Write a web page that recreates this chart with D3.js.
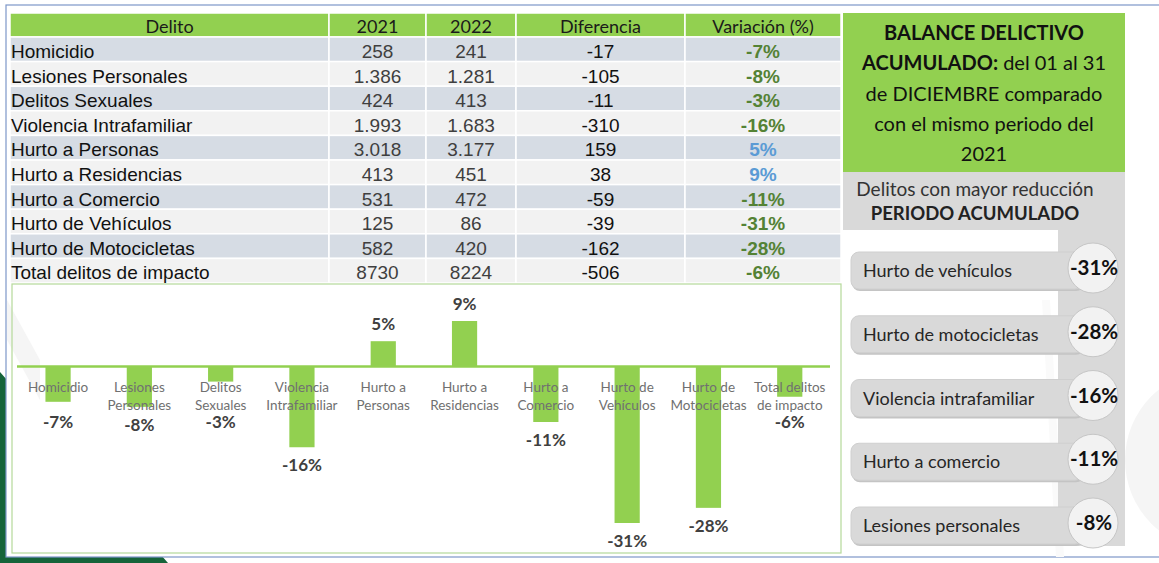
<!DOCTYPE html>
<html>
<head>
<meta charset="utf-8">
<script src="https://cdn.jsdelivr.net/npm/d3@7"></script>
<style>
  body { margin: 0; background: #fff; }
  svg { display: block; }
</style>
</head>
<body>
<script>
const W = 1159, H = 563;

// table data
const headers = ["Delito", "2021", "2022", "Diferencia", "Variación (%)"];
const delitos = ["Homicidio", "Lesiones Personales", "Delitos Sexuales", "Violencia Intrafamiliar",
    "Hurto a Personas", "Hurto a Residencias", "Hurto a Comercio", "Hurto de Vehículos",
    "Hurto de Motocicletas", "Total delitos de impacto"];
const v2021 = [258, 1386, 424, 1993, 3018, 413, 531, 125, 582, 8730];
const v2022 = [241, 1281, 413, 1683, 3177, 451, 472, 86, 420, 8224];
const diferencia = [-17, -105, -11, -310, 159, 38, -59, -39, -162, -506];
const variacion = [-7, -8, -3, -16, 5, 9, -11, -31, -28, -6];

// chart axis labels (two lines)
const chartLabels = [["Homicidio"], ["Lesiones", "Personales"], ["Delitos", "Sexuales"],
    ["Violencia", "Intrafamiliar"], ["Hurto a", "Personas"], ["Hurto a", "Residencias"],
    ["Hurto a", "Comercio"], ["Hurto de", "Vehículos"], ["Hurto de", "Motocicletas"],
    ["Total delitos", "de impacto"]];

// side panel
const titleLines = [["BALANCE DELICTIVO", ""], ["ACUMULADO:", " del 01 al 31"],
    ["", "de DICIEMBRE comparado"], ["", "con el mismo periodo del"], ["", "2021"]];
const topNames = ["Hurto de vehículos", "Hurto de motocicletas", "Violencia intrafamiliar",
    "Hurto a comercio", "Lesiones personales"];
const topValues = [-31, -28, -16, -11, -8];

const green = "#92D050";
const calibri = "Lato, 'Open Sans', sans-serif";
const arial = "'Liberation Sans', Arial, sans-serif";

const loc = d3.formatLocale({ decimal: ",", thousands: ".", grouping: [3], currency: ["$", ""] });
const fmt = loc.format(",d");
const fmtCell = (v, i) => i === delitos.length - 1 ? String(v) : fmt(v);
const pct = v => `${v}%`;

const svg = d3.select("body").append("svg")
    .attr("width", W)
    .attr("height", H);

// background decoration
svg.append("path")
    .attr("d", "M0,372 L168,563 L0,563 Z")
    .attr("fill", "#16643a");
svg.append("rect")
    .attr("x", 6).attr("y", 5)
    .attr("width", 1170).attr("height", 552)
    .attr("fill", "#fff")
    .attr("stroke", "#7d97c9")
    .attr("stroke-width", 1.2);
const wm = svg.append("g").attr("fill", "#f5f5f5");
wm.append("path").attr("d", "M7,300 L7,340 L40,400 L40,360 Z");
wm.append("circle").attr("cx", 1215).attr("cy", 460).attr("r", 90);
wm.append("path").attr("d", "M1042,300 L1050,300 L1064,557 L1056,557 Z").attr("fill", "#fafafa");

// ---------- table ----------
const colEdges = [10, 329, 426, 516, 685, 841];
const row = d3.scaleBand()
    .domain(d3.range(delitos.length))
    .range([37, 283]);

const table = svg.append("g");

table.selectAll("rect.hdr")
    .data(headers)
    .join("rect")
    .attr("class", "hdr")
    .attr("x", (d, i) => colEdges[i])
    .attr("y", 13)
    .attr("width", (d, i) => colEdges[i + 1] - colEdges[i])
    .attr("height", 24)
    .attr("fill", green)
    .attr("stroke", "#fff")
    .attr("stroke-width", 1.5);

table.selectAll("text.hdr")
    .data(headers)
    .join("text")
    .attr("class", "hdr")
    .attr("x", (d, i) => (colEdges[i] + colEdges[i + 1]) / 2)
    .attr("y", 33)
    .attr("text-anchor", "middle")
    .attr("font-family", calibri)
    .attr("font-size", 18)
    .attr("fill", "#1a1a1a")
    .text(d => d);

const rows = table.selectAll("g.row")
    .data(delitos)
    .join("g")
    .attr("class", "row")
    .attr("transform", (d, i) => `translate(0, ${row(i)})`);

rows.each(function (d, i) {
    const g = d3.select(this);
    const fill = i % 2 === 0 ? "#D6DCE4" : "#F2F2F2";
    for (let c = 0; c < 5; c++) {
        g.append("rect")
            .attr("x", colEdges[c])
            .attr("width", colEdges[c + 1] - colEdges[c])
            .attr("height", row.bandwidth())
            .attr("fill", fill)
            .attr("stroke", "#fff")
            .attr("stroke-width", 1.5);
    }
    const yb = 21;
    g.append("text")
        .attr("x", colEdges[0] + 1).attr("y", yb)
        .attr("font-family", arial).attr("font-size", 19).attr("fill", "#111")
        .text(d);
    const cells = [
        [fmtCell(v2021[i], i), "#3f3f3f", "normal"],
        [fmtCell(v2022[i], i), "#3f3f3f", "normal"],
        [String(diferencia[i]), "#111", "normal"],
        [pct(variacion[i]), variacion[i] > 0 ? "#5B9BD5" : "#548235", "bold"]
    ];
    cells.forEach((cl, k) => {
        g.append("text")
            .attr("x", (colEdges[k + 1] + colEdges[k + 2]) / 2)
            .attr("y", yb)
            .attr("text-anchor", "middle")
            .attr("font-family", arial)
            .attr("font-size", 19)
            .attr("font-weight", cl[2])
            .attr("fill", cl[1])
            .text(cl[0]);
    });
});

// ---------- bar chart ----------
svg.append("rect")
    .attr("x", 12).attr("y", 284)
    .attr("width", 829).attr("height", 269)
    .attr("fill", "none")
    .attr("stroke", "#b5d99a")
    .attr("stroke-width", 1.2);

const x = d3.scaleBand()
    .domain(d3.range(variacion.length))
    .range([17.4, 830.4])
    .paddingInner(0.69)
    .paddingOuter(0.345);

const y = d3.scaleLinear()
    .domain([-31, 9])
    .range([523, 321]);

const chart = svg.append("g");

chart.selectAll("rect.bar")
    .data(variacion)
    .join("rect")
    .attr("class", "bar")
    .attr("x", (d, i) => x(i))
    .attr("y", d => y(Math.max(0, d)))
    .attr("width", x.bandwidth())
    .attr("height", d => Math.abs(y(d) - y(0)))
    .attr("fill", green);

chart.append("line")
    .attr("x1", 17).attr("x2", 830)
    .attr("y1", y(0)).attr("y2", y(0))
    .attr("stroke", green)
    .attr("stroke-width", 2.5);

const cx = i => x(i) + x.bandwidth() / 2;

chart.selectAll("text.cat")
    .data(chartLabels)
    .join("text")
    .attr("class", "cat")
    .attr("x", (d, i) => cx(i))
    .attr("y", 392)
    .attr("text-anchor", "middle")
    .attr("font-family", calibri)
    .attr("font-size", 13.5)
    .attr("fill", "#707070")
    .each(function (d) {
        d3.select(this).selectAll("tspan")
            .data(d)
            .join("tspan")
            .attr("x", d3.select(this).attr("x"))
            .attr("dy", (t, k) => k === 0 ? 0 : 17.5)
            .text(t => t);
    });

chart.selectAll("text.val")
    .data(variacion)
    .join("text")
    .attr("class", "val")
    .attr("x", (d, i) => cx(i))
    .attr("y", d => d > 0 ? y(d) - 11 : Math.max(y(d) + 24, 428))
    .attr("text-anchor", "middle")
    .attr("font-family", calibri)
    .attr("font-size", 17)
    .attr("font-weight", "bold")
    .attr("fill", "#404040")
    .text(pct);

// ---------- side panel ----------
const side = svg.append("g");

side.append("rect")
    .attr("x", 843).attr("y", 13)
    .attr("width", 282).attr("height", 159)
    .attr("fill", green);

side.append("path")
    .attr("d", "M843,172 H1125 V546 H1058 V230 H843 Z")
    .attr("fill", "#D9D9D9");

const titleY = d3.scalePoint()
    .domain(d3.range(titleLines.length))
    .range([40, 161]);

side.selectAll("text.title")
    .data(titleLines)
    .join("text")
    .attr("class", "title")
    .attr("x", 984)
    .attr("y", (d, i) => titleY(i))
    .attr("text-anchor", "middle")
    .attr("font-family", calibri)
    .attr("font-size", 20)
    .attr("fill", "#111")
    .each(function (d) {
        const t = d3.select(this);
        if (d[0]) t.append("tspan").attr("font-weight", "bold").text(d[0]);
        if (d[1]) t.append("tspan").text(d[1]);
    });

side.append("text")
    .attr("x", 975).attr("y", 196)
    .attr("text-anchor", "middle")
    .attr("font-family", calibri).attr("font-size", 19).attr("fill", "#333")
    .text("Delitos con mayor reducción");
side.append("text")
    .attr("x", 975).attr("y", 220)
    .attr("text-anchor", "middle")
    .attr("font-family", calibri).attr("font-size", 18.5).attr("font-weight", "bold").attr("fill", "#222")
    .text("PERIODO ACUMULADO");

const py = d3.scalePoint()
    .domain(d3.range(topNames.length))
    .range([271, 526]);

const pills = side.selectAll("g.pill")
    .data(topNames)
    .join("g")
    .attr("class", "pill")
    .attr("transform", (d, i) => `translate(0, ${py(i)})`);

pills.append("rect")
    .attr("x", 852).attr("y", -17)
    .attr("width", 232).attr("height", 37)
    .attr("rx", 8)
    .attr("fill", "#c4c4c4");
pills.append("rect")
    .attr("x", 851).attr("y", -19)
    .attr("width", 232).attr("height", 37)
    .attr("rx", 8)
    .attr("fill", "#d9d9d9")
    .attr("stroke", "#cfcfcf");
pills.append("text")
    .attr("x", 863).attr("y", 6)
    .attr("font-family", calibri).attr("font-size", 18).attr("fill", "#262626")
    .text(d => d);
pills.append("circle")
    .attr("cx", 1093).attr("cy", -3)
    .attr("r", 25)
    .attr("fill", "#f2f2f2")
    .attr("stroke", "#c6c6c6");
pills.append("text")
    .attr("x", 1094).attr("y", 4)
    .attr("text-anchor", "middle")
    .attr("font-family", calibri).attr("font-size", 20.5).attr("font-weight", "bold").attr("fill", "#111")
    .text((d, i) => pct(topValues[i]));
</script>
</body>
</html>
